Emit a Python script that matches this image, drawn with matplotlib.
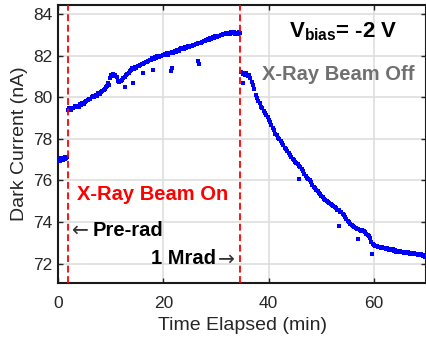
import numpy as np
import matplotlib
matplotlib.use('Agg')
from matplotlib import pyplot as plt

plt.rcParams['font.family'] = ['Liberation Sans', 'DejaVu Sans']
plt.rcParams['mathtext.fontset'] = 'custom'
plt.rcParams['mathtext.rm'] = 'Liberation Sans'
plt.rcParams['mathtext.bf'] = 'Liberation Sans:bold'

# pre-rad readings (min, nA)
pre_t = [0.05, 0.2, 0.35, 0.5, 0.65, 0.8, 0.95, 1.1, 1.25, 1.4, 1.55, 1.7]
pre_i = [76.92, 77.02, 76.95, 77.06, 76.98, 77.08, 77.0, 77.1, 77.03, 77.14, 77.06, 77.12]

# beam on
on_t = [1.90, 2.15, 2.40, 2.65, 2.90, 3.15, 3.40, 3.65, 3.90, 4.15, 4.40, 4.65, 4.90, 5.15,
        5.40, 5.65, 5.90, 6.15, 6.40, 6.65, 6.90, 7.15, 7.40, 7.65, 7.90, 8.15, 8.40, 8.65,
        8.90, 9.15, 9.40, 9.65, 9.90, 10.15, 10.40, 10.65, 10.90, 11.15, 11.40, 11.65, 11.90,
        12.15, 12.40, 12.65, 12.90, 13.15, 13.40, 13.65, 13.90, 14.15, 14.40, 14.65, 14.90,
        15.15, 15.40, 15.65, 15.90, 16.15, 16.40, 16.65, 16.90, 17.15, 17.40, 17.65, 17.90,
        18.15, 18.40, 18.65, 18.90, 19.15, 19.40, 19.65, 19.90, 20.15, 20.40, 20.65, 20.90,
        21.15, 21.40, 21.65, 21.90, 22.15, 22.40, 22.65, 22.90, 23.15, 23.40, 23.65, 23.90,
        24.15, 24.40, 24.65, 24.90, 25.15, 25.40, 25.65, 25.90, 26.15, 26.40, 26.65, 26.90,
        27.15, 27.40, 27.65, 27.90, 28.15, 28.40, 28.65, 28.90, 29.15, 29.40, 29.65, 29.90,
        30.15, 30.40, 30.65, 30.90, 31.15, 31.40, 31.65, 31.90, 32.15, 32.40, 32.65, 32.90,
        33.15, 33.40, 33.65, 33.90, 34.15, 34.40, 34.60,
        9.5, 12.7, 14.3, 16.1, 18.0, 21.5, 21.6, 26.6, 26.7]
on_i = [79.40, 79.46, 79.38, 79.50, 79.47, 79.56, 79.52, 79.60, 79.55, 79.66, 79.62, 79.72,
        79.68, 79.78, 79.83, 79.86, 79.93, 79.90, 80.00, 80.04, 80.02, 80.12, 80.08, 80.20,
        80.16, 80.26, 80.30, 80.36, 80.40, 80.48, 80.52, 80.60, 80.92, 81.05, 81.10, 81.02,
        81.08, 80.95, 80.78, 80.72, 80.80, 80.84, 80.92, 80.98, 81.05, 81.12, 81.18, 81.26,
        81.30, 81.38, 81.35, 81.44, 81.40, 81.50, 81.48, 81.56, 81.60, 81.58, 81.66, 81.70,
        81.68, 81.76, 81.80, 81.78, 81.86, 81.84, 81.92, 81.88, 81.96, 81.94, 82.00, 81.98,
        82.04, 82.02, 82.06, 82.10, 82.05, 82.12, 82.10, 82.16, 82.14, 82.20, 82.18, 82.25,
        82.22, 82.30, 82.34, 82.36, 82.32, 82.40, 82.38, 82.44, 82.42, 82.48, 82.46, 82.52,
        82.50, 82.56, 82.54, 82.60, 82.62, 82.58, 82.66, 82.70, 82.68, 82.74, 82.78, 82.76,
        82.84, 82.80, 82.88, 82.86, 82.92, 82.90, 82.96, 82.94, 83.00, 82.98, 83.04, 83.02,
        83.08, 83.05, 83.10, 83.06, 83.12, 83.08, 83.14, 83.06, 83.10, 83.04, 83.12, 83.08,
        80.67, 80.50, 80.70, 81.14, 81.33, 81.25, 81.38, 81.73, 81.60]

# beam off
off_t = [34.80, 35.05, 35.30, 35.55, 35.80, 36.05, 36.30, 36.55, 36.80, 37.05, 37.30, 37.55,
         37.80, 38.05, 38.30, 38.55, 38.80, 39.05, 39.30, 39.55, 39.80, 40.05, 40.30, 40.55,
         40.80, 41.05, 41.30, 41.55, 41.80, 42.05, 42.30, 42.55, 42.80, 43.05, 43.30, 43.55,
         43.80, 44.05, 44.30, 44.55, 44.80, 45.05, 45.30, 45.55, 45.80, 46.05, 46.30, 46.55,
         46.80, 47.05, 47.30, 47.55, 47.80, 48.05, 48.30, 48.55, 48.80, 49.05, 49.30, 49.55,
         49.80, 50.05, 50.30, 50.55, 50.80, 51.05, 51.30, 51.55, 51.80, 52.05, 52.30, 52.55,
         52.80, 53.05, 53.30, 53.55, 53.80, 54.05, 54.30, 54.55, 54.80, 55.05, 55.30, 55.55,
         55.80, 56.05, 56.30, 56.55, 56.80, 57.05, 57.30, 57.55, 57.80, 58.05, 58.30, 58.55,
         58.80, 59.05, 59.30, 59.55, 59.80, 60.05, 60.30, 60.55, 60.80, 61.05, 61.30, 61.55,
         61.80, 62.05, 62.30, 62.55, 62.80, 63.05, 63.30, 63.55, 63.80, 64.05, 64.30, 64.55,
         64.80, 65.05, 65.30, 65.55, 65.80, 66.05, 66.30, 66.55, 66.80, 67.05, 67.30, 67.55,
         67.80, 68.05, 68.30, 68.55, 68.80, 69.05, 69.30, 69.55, 69.80,
         35.1, 45.8, 53.4, 56.9, 59.7]
off_i = [81.22, 81.12, 81.18, 81.08, 81.14, 81.02, 81.06, 80.90, 80.74, 80.58, 80.38, 80.12,
         79.98, 79.82, 79.70, 79.52, 79.46, 79.32, 79.24, 79.12, 79.04, 78.92, 78.80, 78.64,
         78.52, 78.40, 78.24, 78.16, 78.06, 77.98, 77.90, 77.78, 77.72, 77.58, 77.50, 77.42,
         77.32, 77.22, 77.12, 77.02, 76.96, 76.90, 76.82, 76.78, 76.70, 76.64, 76.56, 76.44,
         76.30, 76.22, 76.14, 76.08, 76.00, 75.90, 75.76, 75.70, 75.62, 75.56, 75.48, 75.40,
         75.34, 75.26, 75.20, 75.12, 75.08, 75.02, 74.96, 74.92, 74.86, 74.82, 74.78, 74.72,
         74.68, 74.60, 74.56, 74.50, 74.46, 74.40, 74.32, 74.24, 74.14, 74.06, 73.98, 73.92,
         73.88, 73.82, 73.76, 73.72, 73.68, 73.66, 73.62, 73.58, 73.60, 73.55, 73.50, 73.44,
         73.38, 73.34, 73.24, 73.04, 72.94, 72.90, 72.86, 72.84, 72.80, 72.82, 72.76, 72.80,
         72.74, 72.76, 72.70, 72.74, 72.66, 72.70, 72.64, 72.68, 72.60, 72.64, 72.58, 72.62,
         72.56, 72.60, 72.54, 72.58, 72.52, 72.56, 72.50, 72.54, 72.48, 72.52, 72.46, 72.50,
         72.44, 72.48, 72.42, 72.46, 72.40, 72.44, 72.36, 72.40, 72.34,
         80.70, 76.05, 73.80, 73.18, 72.47]

beam_lines = [1.84, 34.66]
x_ticks = [0, 20, 40, 60]
y_ticks = [72, 74, 76, 78, 80, 82, 84]

fig = plt.figure(figsize=(4.27, 3.43), dpi=100)
ax = fig.add_axes([58 / 427, 1 - 283 / 343, 368.5 / 427, 278 / 343])

for t, i in [(pre_t, pre_i), (on_t, on_i), (off_t, off_i)]:
    ax.plot(t, i, 's', ms=2.6, mew=0, color='#0000ff', zorder=3)

for xv in beam_lines:
    ax.axvline(xv, color='#ff0000', lw=1.3, linestyle=(0, (3.8, 2.0)), zorder=4)

ax.set_xlim(0, 70)
ax.set_ylim(71.07, 84.43)
ax.set_xticks(x_ticks)
ax.set_yticks(y_ticks)
ax.grid(True, color='#dedede', lw=1.2, zorder=0)
ax.set_axisbelow(True)
ax.tick_params(direction='in', length=3.5, width=1, top=True, right=True,
               labelsize=12.5, colors='#262626')
ax.tick_params(axis='x', pad=9)
ax.tick_params(axis='y', pad=4)
for s in ax.spines.values():
    s.set_linewidth(1.5)
    s.set_color('#1a1a1a')

ax.set_xlabel('Time Elapsed (min)', fontsize=14, color='#262626', labelpad=5)
ax.set_ylabel('Dark Current (nA)', fontsize=14, color='#262626', labelpad=4)

ax.text(43.8, 82.86, r'$\mathbf{V_{bias}}$= -2 V', fontsize=16, fontweight='bold',
        ha='left', va='baseline')
ax.text(38.84, 80.84, 'X-Ray Beam Off', fontsize=14.5, fontweight='bold',
        color='#707070', ha='left', va='baseline')
ax.text(3.54, 75.05, 'X-Ray Beam On', fontsize=14.5, fontweight='bold',
        color='#ff0000', ha='left', va='baseline')
ax.text(2.6, 73.35, '\u2190', fontsize=14.5, family='DejaVu Sans', color='#333333',
        ha='left', va='baseline')
ax.text(6.63, 73.35, 'Pre-rad', fontsize=14.5, fontweight='bold', ha='left', va='baseline')
ax.text(17.75, 71.97, '1 Mrad', fontsize=14.5, fontweight='bold', ha='left', va='baseline')
ax.text(30.4, 71.97, '\u2192', fontsize=14.5, family='DejaVu Sans', color='#333333',
        ha='left', va='baseline')

fig.savefig('out.png', dpi=100)
